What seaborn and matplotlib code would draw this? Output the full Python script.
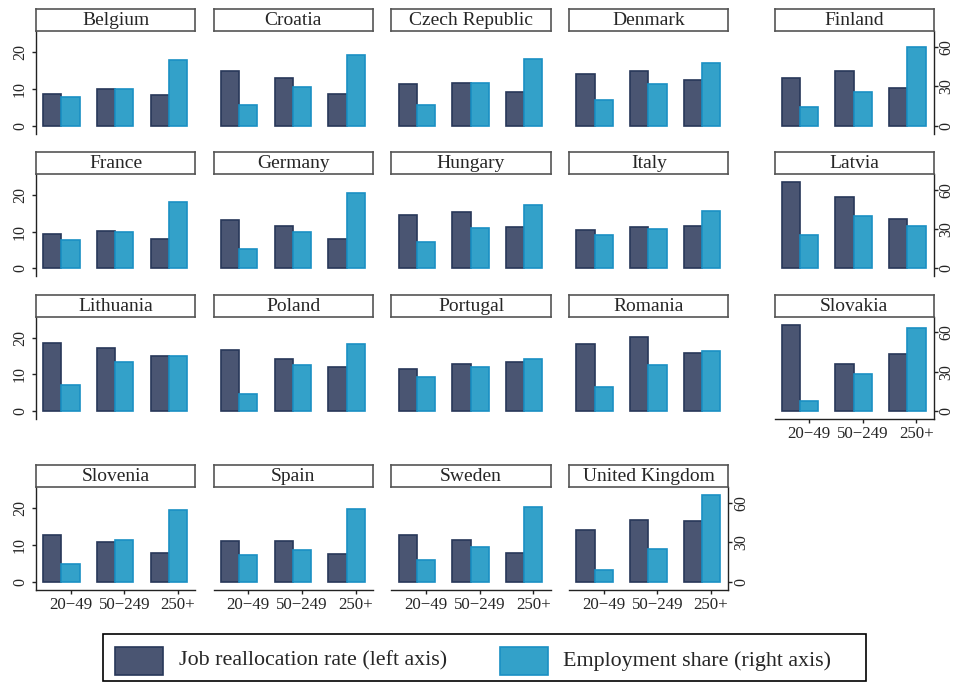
import numpy as np
import pandas as pd
import matplotlib
matplotlib.use("Agg")
import matplotlib.pyplot as plt
import seaborn as sns
from matplotlib.patches import Rectangle

# ---------------- data ----------------
countries = ["Belgium", "Croatia", "Czech Republic", "Denmark", "Finland",
             "France", "Germany", "Hungary", "Italy", "Latvia",
             "Lithuania", "Poland", "Portugal", "Romania", "Slovakia",
             "Slovenia", "Spain", "Sweden", "United Kingdom"]
size_classes = ["20\u221249", "50\u2212249", "250+"]

# Job reallocation rate (left axis), per size class 20-49, 50-249, 250+
job_realloc = [
    [8.7, 10.0, 8.4],    # Belgium
    [15.0, 13.0, 8.7],   # Croatia
    [11.4, 11.5, 9.3],   # Czech Republic
    [14.1, 14.8, 12.5],  # Denmark
    [13.0, 14.9, 10.3],  # Finland
    [9.3, 10.1, 7.9],    # France
    [13.1, 11.5, 7.9],   # Germany
    [14.4, 15.3, 11.2],  # Hungary
    [10.4, 11.2, 11.6],  # Italy
    [23.5, 19.5, 13.4],  # Latvia
    [18.5, 17.1, 15.1],  # Lithuania
    [16.6, 14.1, 11.9],  # Poland
    [11.5, 12.7, 13.3],  # Portugal
    [18.2, 20.2, 15.7],  # Romania
    [23.4, 12.7, 15.5],  # Slovakia
    [12.6, 10.7, 7.9],   # Slovenia
    [11.0, 11.0, 7.5],   # Spain
    [12.8, 11.3, 7.9],   # Sweden
    [14.0, 16.7, 16.5],  # United Kingdom
]
# Employment share (right axis)
emp_share = [
    [22.1, 27.7, 49.9],  # Belgium
    [16.0, 29.5, 54.0],  # Croatia
    [15.5, 32.6, 50.9],  # Czech Republic
    [19.8, 31.8, 48.1],  # Denmark
    [14.2, 25.7, 59.8],  # Finland
    [21.4, 27.5, 50.4],  # France
    [14.5, 27.5, 57.3],  # Germany
    [19.8, 30.5, 48.1],  # Hungary
    [25.2, 29.8, 43.5],  # Italy
    [25.7, 40.2, 32.6],  # Latvia
    [20.1, 37.2, 41.7],  # Lithuania
    [13.0, 34.9, 50.9],  # Poland
    [25.7, 33.8, 39.4],  # Portugal
    [18.1, 34.9, 45.8],  # Romania
    [7.4, 28.0, 63.4],   # Slovakia
    [13.7, 31.6, 54.5],  # Slovenia
    [20.1, 23.9, 55.7],  # Spain
    [16.3, 26.2, 57.3],  # Sweden
    [8.7, 24.7, 65.9],   # United Kingdom
]
left_ticks = [0, 10, 20]
right_ticks = [0, 30, 60]
legend_labels = ["Job reallocation rate (left axis)", "Employment share (right axis)"]

# ---------------- style ----------------
sns.set_style("white")
plt.rcParams["font.family"] = ["Liberation Serif", "DejaVu Serif"]

DARK, DARK_EDGE = "#4a5572", "#283759"
LIGHT, LIGHT_EDGE = "#33a1c9", "#1a90c4"
SPINE = "#222222"
BOX = "#555555"

W, H = 957, 682
fig = plt.figure(figsize=(W / 100, H / 100), dpi=100)

col_x = [36.0, 213.7, 391.4, 569.1, 774.5]
AW = 159.3
row_zero = [125.7, 268.3, 411.0, 581.7]
UP, DOWN = 94.5, 7.8
LS, RS = 3.67, 1.31        # px per unit, left / right
HEAD = 22.0
BW = 0.34
pos = np.arange(3)
YT_FS = 11.5
XT_FS = 12.2

grid = [(i // 5, i % 5) for i in range(15)] + [(3, 0), (3, 1), (3, 2), (3, 3)]
last_in_row = {4, 9, 14, 18}
bottom_panels = {14, 15, 16, 17, 18}

for i, c in enumerate(countries):
    r, cc = grid[i]
    x0 = col_x[cc]
    top = row_zero[r] - UP
    bot = row_zero[r] + DOWN
    ax = fig.add_axes([x0 / W, 1 - bot / H, AW / W, (bot - top) / H])
    d1 = pd.DataFrame({"pos": pos - BW, "val": job_realloc[i]})
    sns.barplot(data=d1, x="pos", y="val", native_scale=True, width=BW,
                color=DARK, edgecolor=DARK_EDGE, linewidth=1.2,
                saturation=1, errorbar=None, ax=ax)
    ax2 = ax.twinx()
    d2 = pd.DataFrame({"pos": pos, "val": emp_share[i]})
    sns.barplot(data=d2, x="pos", y="val", native_scale=True, width=BW,
                color=LIGHT, edgecolor=LIGHT_EDGE, linewidth=1.2,
                saturation=1, errorbar=None, ax=ax2)
    ax.set_ylim(-DOWN / LS, UP / LS)
    ax2.set_ylim(-DOWN / RS, UP / RS)
    ax.set_xlim(-0.645, 2.323)
    ax2.set_xlim(-0.645, 2.323)
    for a in (ax, ax2):
        a.set_xlabel("")
        a.set_ylabel("")
        a.patch.set_visible(False)
        for s in a.spines.values():
            s.set_visible(False)
            s.set_color(SPINE)
            s.set_linewidth(1.0)

    # left axis
    if cc == 0:
        ax.spines["left"].set_visible(True)
        ax.set_yticks(left_ticks)
        ax.set_yticklabels([str(t) for t in left_ticks], rotation=90,
                           va="center", fontsize=YT_FS)
        ax.tick_params(axis="y", which="both", left=True, length=3.2,
                       width=1.0, color=SPINE, pad=2.5)
    else:
        ax.set_yticks([])
    # right axis
    if i in last_in_row:
        ax2.spines["right"].set_visible(True)
        ax2.set_yticks(right_ticks)
        ax2.set_yticklabels([str(t) for t in right_ticks], rotation=90,
                            va="center", fontsize=YT_FS)
        ax2.tick_params(axis="y", which="both", right=True, length=3.2,
                        width=1.0, color=SPINE, pad=0.3)
    else:
        ax2.set_yticks([])
    # bottom axis
    ax.set_xticks(pos)
    if i in bottom_panels:
        ax.spines["bottom"].set_visible(True)
        ax.set_xticklabels(size_classes, fontsize=XT_FS)
        ax.tick_params(axis="x", bottom=True, length=3.2, width=1.0,
                       color=SPINE, pad=2)
    else:
        ax.tick_params(axis="x", bottom=False, labelbottom=False)

    # header box
    hx = fig.add_axes([x0 / W, 1 - top / H, AW / W, HEAD / H])
    hx.set_xticks([])
    hx.set_yticks([])
    hx.set_facecolor("white")
    for s in hx.spines.values():
        s.set_visible(True)
        s.set_color(BOX)
        s.set_linewidth(1.2)
    hx.text(0.5, 0.47, c, ha="center", va="center", fontsize=14,
            transform=hx.transAxes)

# ---------------- legend ----------------
fig.add_artist(Rectangle((103 / W, 1 - 681 / H), (866 - 103) / W, (681 - 634) / H,
                         transform=fig.transFigure, facecolor="white",
                         edgecolor="black", linewidth=1.2))
for (px, tx), fc, ec, lab in zip([(115, 179), (500, 563)], [DARK, LIGHT],
                                 [DARK_EDGE, LIGHT_EDGE], legend_labels):
    fig.add_artist(Rectangle((px / W, 1 - 675 / H), 48 / W, 28 / H,
                             transform=fig.transFigure, facecolor=fc,
                             edgecolor=ec, linewidth=1.2))
    fig.text(tx / W, 1 - 661 / H, lab, ha="left", va="center", fontsize=15.8)

fig.savefig("out.png", dpi=100)
